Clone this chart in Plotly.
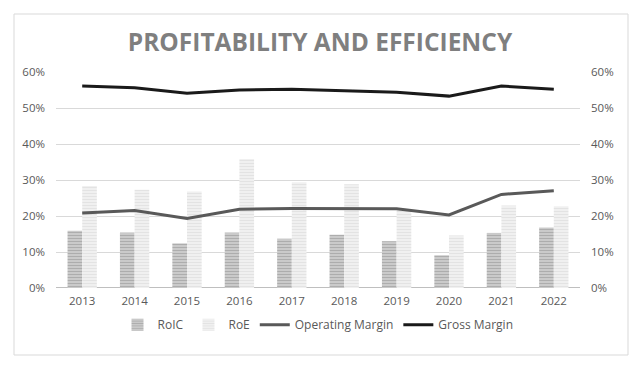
import plotly.graph_objects as go

years = ["2013", "2014", "2015", "2016", "2017", "2018", "2019", "2020", "2021", "2022"]
roic = [0.159, 0.154, 0.124, 0.154, 0.137, 0.148, 0.130, 0.091, 0.153, 0.168]
roe = [0.283, 0.273, 0.268, 0.358, 0.294, 0.288, 0.218, 0.146, 0.229, 0.227]
op_margin = [0.208, 0.215, 0.193, 0.219, 0.221, 0.220, 0.220, 0.203, 0.260, 0.270]
gross_margin = [0.561, 0.556, 0.541, 0.550, 0.552, 0.548, 0.544, 0.533, 0.561, 0.552]
y_ticks = [0, 0.1, 0.2, 0.3, 0.4, 0.5, 0.6]

FONT = "Open Sans"
TXT = "#595959"

fig = go.Figure()
fig.add_trace(go.Bar(
    x=years, y=roic, name="RoIC",
    marker=dict(color="#a6a6a6", line=dict(width=0),
                pattern=dict(shape="-", fgcolor="#8c8c8c", bgcolor="#cfcfcf", size=3, solidity=0.45)),
))
fig.add_trace(go.Bar(
    x=years, y=roe, name="RoE",
    marker=dict(color="#e6e6e6", line=dict(width=0),
                pattern=dict(shape="-", fgcolor="#d4d4d4", bgcolor="#f2f2f2", size=3, solidity=0.45)),
))
fig.add_trace(go.Scatter(
    x=years, y=op_margin, name="Operating Margin", mode="lines",
    line=dict(color="#595959", width=3), yaxis="y2",
))
fig.add_trace(go.Scatter(
    x=years, y=gross_margin, name="Gross Margin", mode="lines",
    line=dict(color="#1a1a1a", width=3), yaxis="y2",
))

axis_common = dict(
    range=[0, 0.6], tickvals=y_ticks, tickformat=".0%",
    tickfont=dict(family=FONT, size=11.5, color=TXT),
    showline=False, zeroline=False, ticks="",
)

fig.update_layout(
    width=640, height=368,
    margin=dict(l=56, r=60, t=72, b=80),
    paper_bgcolor="white", plot_bgcolor="white",
    barmode="group", bargap=0.44, bargroupgap=0.0,
    title=dict(text="<b>PROFITABILITY AND EFFICIENCY</b>", x=0.5, xanchor="center",
               y=0.885, yanchor="middle",
               font=dict(family=FONT, size=24.5, color="#7f7f7f")),
    xaxis=dict(type="category", tickfont=dict(family=FONT, size=11.5, color=TXT),
               showgrid=False, showline=False, ticks="", ticklabelstandoff=4),
    yaxis=dict(**axis_common, showgrid=True, gridcolor="#d9d9d9", gridwidth=1,
               ticklabelstandoff=10),
    yaxis2=dict(**axis_common, overlaying="y", side="right", showgrid=False,
                ticklabelstandoff=10),
    legend=dict(orientation="h", x=0.5, xanchor="center", y=-0.17, yanchor="middle",
                font=dict(family=FONT, size=12, color=TXT),
                itemwidth=30, tracegroupgap=0, bgcolor="rgba(0,0,0,0)"),
    showlegend=True,
    shapes=[
        dict(type="line", xref="paper", yref="y", x0=0, x1=1, y0=0, y1=0,
             line=dict(color="#bfbfbf", width=2), layer="below"),
        dict(type="rect", xref="paper", yref="paper",
             x0=-42 / 524, x1=1 + 48 / 524, y0=-67 / 216, y1=1 + 58 / 216,
             line=dict(color="#d9d9d9", width=1), fillcolor="rgba(0,0,0,0)", layer="below"),
    ],
)

fig.write_html("out.html")
